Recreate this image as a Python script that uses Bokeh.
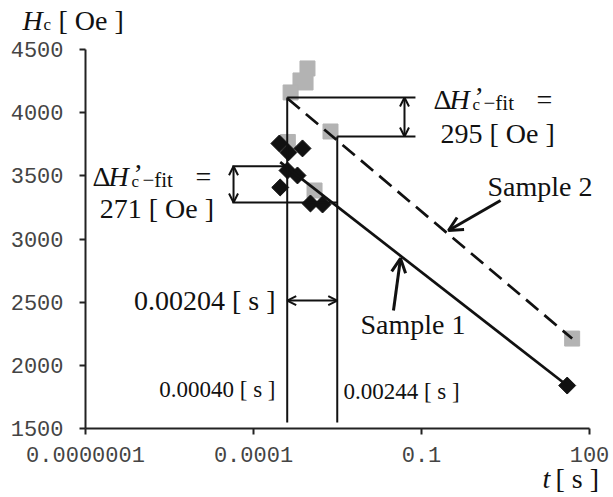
from bokeh.plotting import figure
from bokeh.models import (Arrow, OpenHead, Label, FixedTicker, LogAxis,
                          LinearAxis, Range1d)
from bokeh.embed import file_html
from bokeh.resources import INLINE

# ---- data ----
s1_t = [2.9e-4, 4.2e-4, 7.5e-4, 4.05e-4, 6.1e-4, 3.0e-4, 1.04e-3, 1.71e-3, 40.0]
s1_hc = [3756, 3685, 3717, 3542, 3503, 3408, 3281, 3273, 1840]
s2_t = [9.2e-4, 6.9e-4, 8.5e-4, 4.6e-4, 4.1e-4, 1.23e-3, 2.37e-3, 49.0]
s2_hc = [4350, 4255, 4239, 4160, 3768, 3384, 3851, 2212]
fit1_t = [3.0e-4, 40.0]
fit1_hc = [3608, 1840]
fit2_t = [4.05e-4, 49.0]
fit2_hc = [4112, 2212]

x_ticks = [1e-7, 1e-4, 1e-1, 1e2]
x_tick_labels = ["0.0000001", "0.0001", "0.1", "100"]
y_ticks = [1500, 2000, 2500, 3000, 3500, 4000, 4500]
x_bounds = (1e-7, 1e2)
y_bounds = (1500, 4500)

# annotation levels
t_a, t_b = 0.0004, 0.00313
t_left, t_right = 4.2e-5, 0.078
t_arr1, t_arr2 = 4.4e-5, 0.0497
hc_floor = 1547
hc2_top, hc2_bot = 4120, 3811
hc1_top, hc1_bot = 3576, 3289
hc_dt = 2513

SERIF = "Liberation Serif"
INK = "#111111"

# canvas layout: axes box at px 85..589 (x) and 49..428 (y) of a 610x497 canvas
W, H = 610, 497
L, R, T, B = 85, 589, 49, 428
dec_px = (R - L) / 9.0
val_px = (B - T) / 3000.0
x_lo = 10 ** (-7 - L / dec_px)
x_hi = 10 ** (2 + (W - R) / dec_px)
y_lo = 1500 - (H - B) / val_px
y_hi = 4500 + T / val_px

p = figure(width=W, height=H, x_axis_type="log", x_axis_location=None,
           y_axis_location=None,
           x_range=Range1d(x_lo, x_hi), y_range=Range1d(y_lo, y_hi),
           output_backend="svg", toolbar_location=None, min_border=0)
p.outline_line_color = None
p.grid.visible = False

xax = LogAxis(fixed_location=1500, bounds=x_bounds,
              ticker=FixedTicker(ticks=x_ticks),
              major_label_overrides={t: l for t, l in zip(x_ticks, x_tick_labels)},
              major_label_standoff=12)
yax = LinearAxis(fixed_location=1e-7, bounds=y_bounds,
                 ticker=FixedTicker(ticks=y_ticks), major_label_standoff=16)
for ax in (xax, yax):
    ax.axis_line_color = "#222222"
    ax.axis_line_width = 2
    ax.major_tick_line_color = "#222222"
    ax.major_tick_line_width = 2
    ax.major_tick_out = 6
    ax.major_tick_in = 0
    ax.minor_tick_line_color = None
    ax.major_label_text_font = "Liberation Mono"
    ax.major_label_text_font_size = "22px"
    ax.major_label_text_color = "#444444"
p.add_layout(xax, "below")
p.add_layout(yax, "left")

# markers
p.scatter(s2_t, s2_hc, marker="square", size=15, color="#b3b3b3")
p.scatter(s1_t, s1_hc, marker="square", size=12, angle=0.785398, color=INK)

# fit lines
p.line(fit1_t, fit1_hc, line_color=INK, line_width=2.7)
p.line(fit2_t, fit2_hc, line_color=INK, line_width=2.7, line_dash="16 8")

# annotation lines
lw = 2
p.line([t_a, t_a], [hc_floor, hc2_top], line_color=INK, line_width=lw)
p.line([t_b, t_b], [hc_floor, hc2_bot], line_color=INK, line_width=lw)
p.line([t_a, t_right], [hc2_top, hc2_top], line_color=INK, line_width=lw)
p.line([t_b, t_right], [hc2_bot, hc2_bot], line_color=INK, line_width=lw)
p.line([t_left, t_a], [hc1_top, hc1_top], line_color=INK, line_width=lw)
p.line([t_left, t_b], [hc1_bot, hc1_bot], line_color=INK, line_width=lw)


def dbl_arrow(x0, y0, x1, y1):
    p.add_layout(Arrow(start=OpenHead(size=9, line_width=2, line_color=INK),
                       end=OpenHead(size=9, line_width=2, line_color=INK),
                       x_start=x0, y_start=y0, x_end=x1, y_end=y1,
                       line_width=2, line_color=INK))


dbl_arrow(t_arr1, hc1_top, t_arr1, hc1_bot)
dbl_arrow(t_arr2, hc2_top, t_arr2, hc2_bot)
dbl_arrow(t_a, hc_dt, t_b, hc_dt)

# sample pointer arrows
p.add_layout(Arrow(end=OpenHead(size=14, line_width=3, line_color=INK),
                   x_start=2.58, y_start=3305, x_end=0.303, y_end=3067,
                   line_width=3, line_color=INK))
p.add_layout(Arrow(end=OpenHead(size=14, line_width=3, line_color=INK),
                   x_start=0.0316, y_start=2434, x_end=0.0422, y_end=2846,
                   line_width=3, line_color=INK))

BASE_DY = 9  # compensate the label baseline placement


def lab(x, y, text, size=28, style="normal", align="left", dx=0, dy=0):
    p.add_layout(Label(x=x, y=y, text=text, x_offset=dx, y_offset=dy + BASE_DY,
                       text_font=SERIF, text_font_size=f"{size}px",
                       text_font_style=style, text_align=align,
                       text_baseline="alphabetic", text_color=INK))


def delta_label(x, y):
    lab(x, y, "Δ")
    lab(x, y, "H", style="italic", dx=16)
    lab(x, y, "c", size=17, dx=39, dy=-5)
    lab(x, y, "’", dx=41, dy=3)
    lab(x, y, "−fit", size=21, dx=50, dy=-4)
    lab(x, y, "=", dx=103)


delta_label(1.33e-7, 3424)
lab(1.8e-7, 3170, "271 [ Oe ]")
delta_label(0.164, 4033)
lab(0.218, 3764, "295 [ Oe ]")

lab(1.51, 3344, "Sample 2")
lab(0.00815, 2252, "Sample 1")
lab(2.47e-4, 2442, "0.00204 [ s ]", align="right")
lab(2.47e-4, 1737, "0.00040 [ s ]", size=23, align="right")
lab(4.04e-3, 1722, "0.00244 [ s ]", size=23)

# axis titles
lab(7.5e-9, 4658, "H", style="italic")
lab(7.5e-9, 4658, "c", size=17, dx=21, dy=-4)
lab(7.5e-9, 4658, "[ Oe ]", dx=36)
lab(14.5, 1030, "t", style="italic")
lab(14.5, 1030, "[ s ]", dx=13)

open("out.html", "w").write(file_html(p, INLINE))
